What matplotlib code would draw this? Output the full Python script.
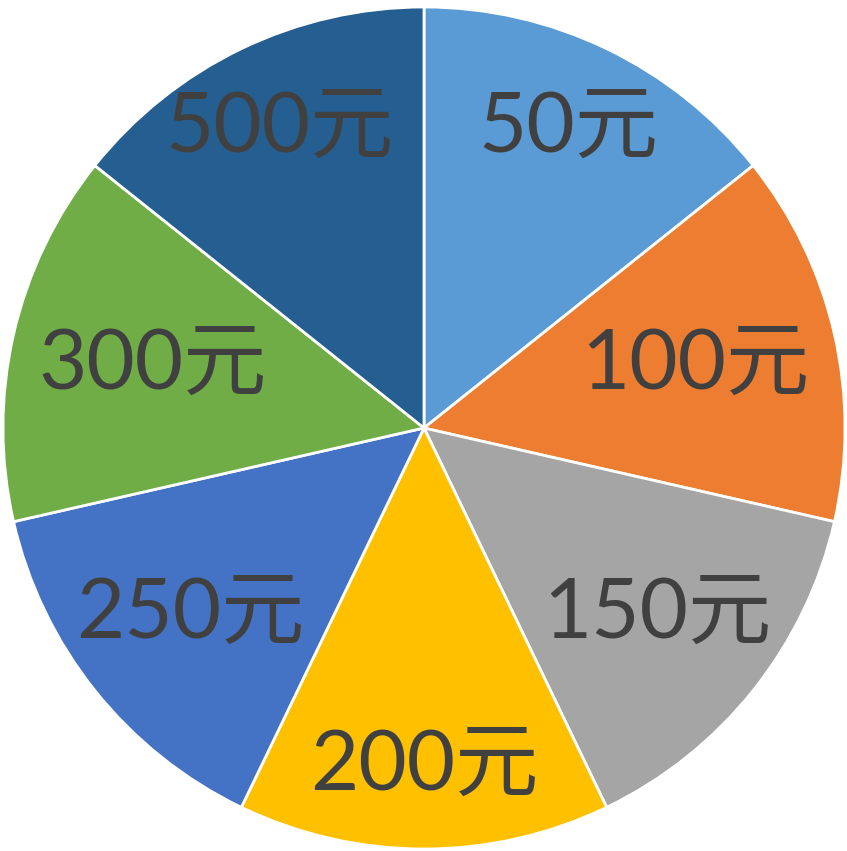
import matplotlib
matplotlib.use("Agg")
import matplotlib.pyplot as plt
import numpy as np

labels = ["50元", "100元", "150元", "200元", "250元", "300元", "500元"]
values = [1, 1, 1, 1, 1, 1, 1]
colors = ["#5B9BD5", "#ED7D31", "#A5A5A5", "#FFC000", "#4472C4", "#70AD47", "#255E91"]
label_dist = [0.79, 0.662, 0.71, 0.805, 0.71, 0.662, 0.79]

fig = plt.figure(figsize=(8.47, 8.51), dpi=100)
ax = fig.add_axes([3/847, 2/851, 842/847, 842/851])
wedges, _ = ax.pie(values, colors=colors, startangle=90, counterclock=False, radius=1,
                   wedgeprops=dict(edgecolor="white", linewidth=2))
for w, lab, d in zip(wedges, labels, label_dist):
    ang = np.deg2rad((w.theta1 + w.theta2) / 2)
    ax.text(d * np.cos(ang), d * np.sin(ang), lab, fontsize=60, color="#404040",
            family=["Lato", "Noto Sans CJK SC"], ha="center", va="center")
ax.set_xlim(-1, 1)
ax.set_ylim(-1, 1)
ax.set_aspect("equal")
ax.axis("off")
fig.savefig("out.png", dpi=100)
